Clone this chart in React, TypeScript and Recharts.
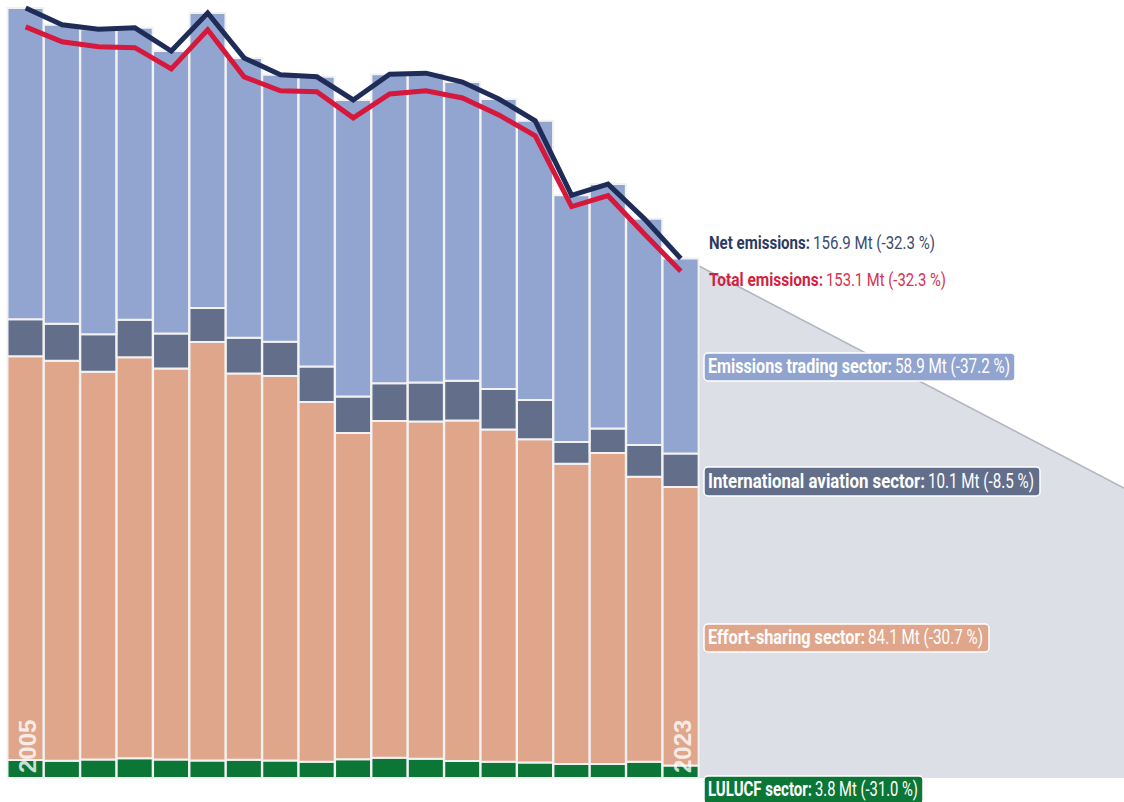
import { ComposedChart, Bar, Line, XAxis, YAxis, LabelList } from 'recharts';

const years = ['2005', '2006', '2007', '2008', '2009', '2010', '2011', '2012', '2013', '2014', '2015', '2016', '2017', '2018', '2019', '2020', '2021', '2022', '2023'];
const lulucf = [5.4, 5.2, 5.6, 6.0, 5.6, 5.3, 5.5, 5.3, 4.9, 5.7, 6.1, 5.8, 5.1, 4.9, 4.7, 4.2, 4.2, 4.9, 3.8];
const effortSharing = [122.0, 120.8, 117.1, 121.1, 118.1, 126.4, 116.7, 116.1, 108.7, 98.5, 101.7, 101.9, 102.9, 100.4, 97.6, 90.7, 94.0, 86.1, 84.1];
const aviation = [11.2, 11.2, 11.3, 11.3, 10.6, 10.3, 10.8, 10.4, 10.7, 11.0, 11.4, 11.8, 12.0, 12.2, 11.9, 6.6, 7.4, 9.6, 10.1];
const emissionsTrading = [94.0, 90.3, 92.2, 88.2, 85.3, 89.1, 84.5, 80.6, 87.5, 89.6, 93.4, 93.4, 90.2, 87.6, 84.3, 74.5, 73.8, 68.3, 58.9];
const netEmissions = [232.6, 227.5, 226.2, 226.6, 219.6, 231.1, 217.5, 212.4, 211.8, 204.8, 212.6, 212.9, 210.2, 205.1, 198.5, 176.0, 179.4, 168.9, 156.9];
const totalEmissions = [226.9, 222.4, 220.9, 220.6, 214.2, 226.0, 211.8, 207.6, 207.3, 199.4, 206.6, 207.6, 205.4, 200.3, 194.0, 172.6, 175.9, 164.3, 153.1];

const data = years.map((year, i) => ({
    year,
    lulucf: lulucf[i],
    effortSharing: effortSharing[i],
    aviation: aviation[i],
    emissionsTrading: emissionsTrading[i],
    net: netEmissions[i],
    total: totalEmissions[i],
}));

const W = 1124;
const H = 802;
const margin = { top: 0, right: 425, bottom: 24, left: 7.5 };
const plotBottom = H - margin.bottom;

const labelFont = "'Roboto', 'Liberation Sans', sans-serif";

function YearTag(props: any) {
    const { x, width, index, value } = props;
    if (index !== 0 && index !== years.length - 1) return null;
    const bx = x + width / 2 + 10;
    const by = plotBottom - 5;
    return (
        <text
            x={bx}
            y={by}
            transform={`rotate(-90 ${bx} ${by})`}
            fill="#ffffff"
            fillOpacity={0.8}
            fontSize={24}
            fontWeight="bold"
            fontFamily="'Liberation Sans', Arial, sans-serif"
        >
            {value}
        </text>
    );
}

// condensed look: small font stretched vertically, each part squeezed to its reference width
function Pair({ x, y, size, boldW, gap, restW, bold, rest, boldFill, restFill }: any) {
    const k = 1.42;
    return (
        <g transform={`translate(${x} ${y}) scale(1 ${k})`} fontFamily={labelFont} fontSize={size / k}>
            <text x={0} y={0} fontWeight="bold" fill={boldFill} textLength={boldW} lengthAdjust="spacingAndGlyphs">{bold}</text>
            <text x={boldW + gap} y={0} fill={restFill} textLength={restW} lengthAdjust="spacingAndGlyphs">{rest}</text>
        </g>
    );
}

function BoxLabel({ x, y, w, h, fill, ...rest }: any) {
    return (
        <g>
            <rect x={x} y={y} width={w} height={h} rx={4} fill={fill} stroke="#ffffff" strokeWidth={1.5} />
            <Pair x={x + 4} y={y + h - 8} size={20} boldFill="#ffffff" restFill="#ffffff" gap={3} {...rest} />
        </g>
    );
}

export default function App() {
    return (
        <div style={{ position: 'absolute', left: 0, top: 0, width: W, height: H, background: '#fff' }}>
            <svg width={W} height={H} style={{ position: 'absolute', left: 0, top: 0 }}>
                <polygon points="699,266 1124,488 1124,778 699,778" fill="#dcdfe6" />
                <line x1={699} y1={266} x2={1124} y2={488} stroke="#b1b5bf" strokeWidth={1.5} />
                <Pair x={709} y={249} size={18} boldW={101} gap={3} restW={122} bold="Net emissions:" rest="156.9 Mt (-32.3 %)" boldFill="#2d3a5f" restFill="#3d4a6e" />
                <Pair x={709} y={286} size={18} boldW={114} gap={3} restW={120} bold="Total emissions:" rest="153.1 Mt (-32.3 %)" boldFill="#d41f3f" restFill="#d6324f" />
                <BoxLabel x={704} y={353} w={311} h={28} fill="#91a4cf" boldW={184} restW={115} bold="Emissions trading sector:" rest="58.9 Mt (-37.2 %)" />
                <BoxLabel x={704} y={467} w={336} h={29} fill="#636e8a" boldW={217} restW={106} bold="International aviation sector:" rest="10.1 Mt (-8.5 %)" />
                <BoxLabel x={704} y={624} w={285} h={28} fill="#e0a68b" boldW={157} restW={115} bold="Effort-sharing sector:" rest="84.1 Mt (-30.7 %)" />
                <BoxLabel x={704} y={776} w={219} h={28} fill="#0c7636" boldW={104} restW={103} bold="LULUCF sector:" rest="3.8 Mt (-31.0 %)" />
            </svg>
            <div style={{ position: 'absolute', left: 0, top: 0 }}>
                <ComposedChart width={W} height={H} data={data} margin={margin} barCategoryGap={0}>
                    <XAxis dataKey="year" hide />
                    <YAxis hide domain={[0, 235]} />
                    <Bar dataKey="lulucf" stackId="s" fill="#0c7636" stroke="#f2f2f2" strokeWidth={2} isAnimationActive={false} />
                    <Bar dataKey="effortSharing" stackId="s" fill="#e0a68b" stroke="#f2f2f2" strokeWidth={2} isAnimationActive={false} />
                    <Bar dataKey="aviation" stackId="s" fill="#636e8a" stroke="#f2f2f2" strokeWidth={2} isAnimationActive={false} />
                    <Bar dataKey="emissionsTrading" stackId="s" fill="#91a5d0" stroke="#f2f2f2" strokeWidth={2} isAnimationActive={false}>
                        <LabelList dataKey="year" content={<YearTag />} />
                    </Bar>
                    <Line type="linear" dataKey="total" stroke="#d6183c" strokeWidth={5} dot={false} isAnimationActive={false} />
                    <Line type="linear" dataKey="net" stroke="#1f2c58" strokeWidth={5} dot={false} isAnimationActive={false} />
                </ComposedChart>
            </div>
        </div>
    );
}
